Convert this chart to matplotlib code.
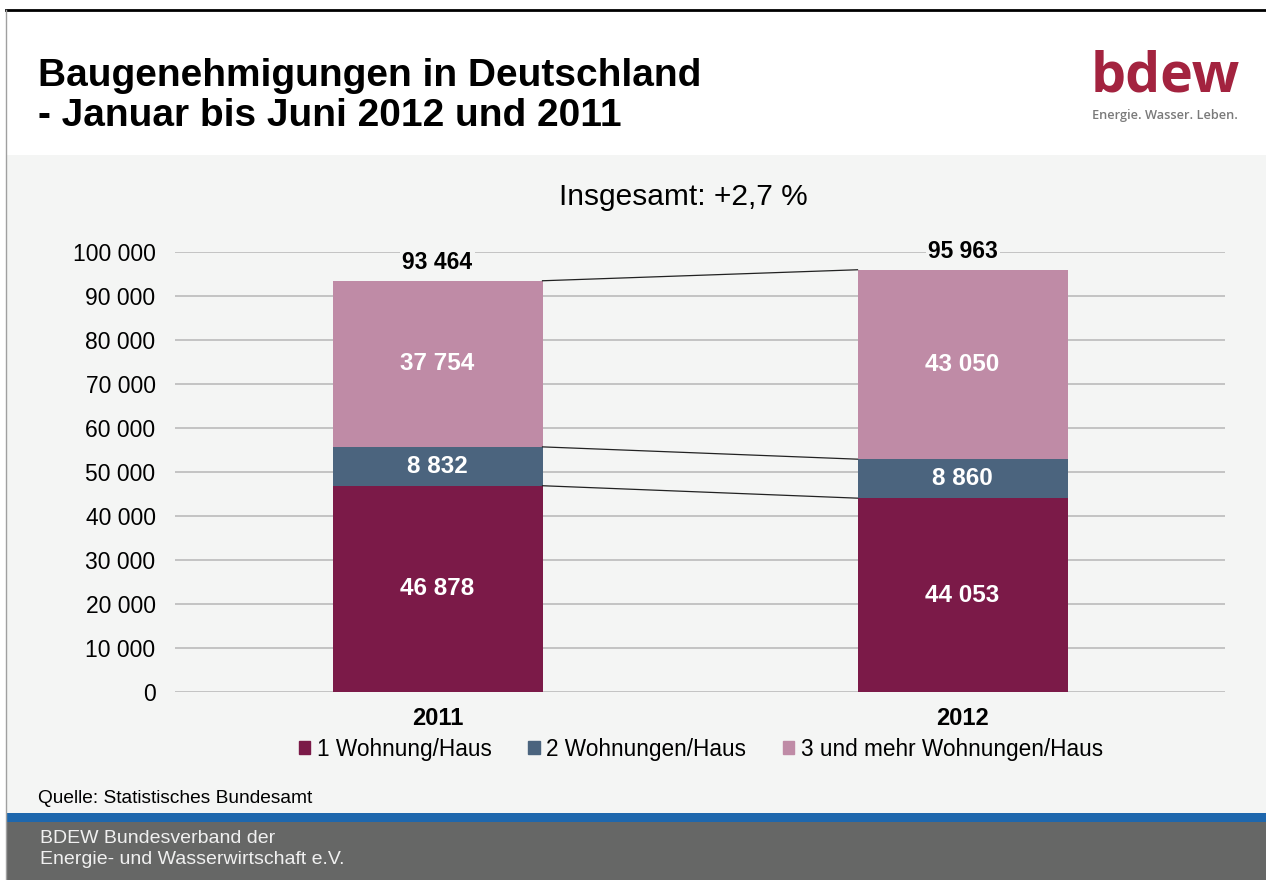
import matplotlib
matplotlib.use("Agg")
import matplotlib.pyplot as plt
from matplotlib.patches import Rectangle
from matplotlib.lines import Line2D

plt.rcParams['font.family'] = ['Liberation Sans', 'DejaVu Sans']

# data
years = ['2011', '2012']
series = ['1 Wohnung/Haus', '2 Wohnungen/Haus', '3 und mehr Wohnungen/Haus']
one_flat = [46878, 44053]
two_flats = [8832, 8860]
three_plus = [37754, 43050]
totals = [93464, 95963]
yticks = [0, 10000, 20000, 30000, 40000, 50000, 60000, 70000, 80000, 90000, 100000]

colors = ['#7b1a48', '#4b647e', '#bf8ba6']
bg = '#f4f5f4'

W, H = 1266, 880
fig = plt.figure(figsize=(W / 100, H / 100), dpi=100)
fig.patch.set_facecolor('white')


def box(x0, y0, x1, y1, color, z=0):
    # pixel coords, origin top-left
    fig.add_artist(Rectangle((x0 / W, 1 - y1 / H), (x1 - x0) / W, (y1 - y0) / H,
                             transform=fig.transFigure, facecolor=color,
                             edgecolor='none', zorder=z))


def fline(x0, y0, x1, y1, color, lw):
    fig.add_artist(Line2D([x0 / W, x1 / W], [1 - y0 / H, 1 - y1 / H],
                          transform=fig.transFigure, color=color, lw=lw, zorder=1))


# page frame
box(7, 155, W, 813, bg)
box(7, 813, W, 822, '#1e67ad')
box(7, 822, W, H, '#666766')
fline(6, 10, W, 10, 'black', 2)
fline(6, 10, 6, 880, '#a0a0a0', 1)

# header
fig.text(38 / W, 1 - 76 / H, 'Baugenehmigungen in Deutschland', fontsize=28,
         fontweight='bold', va='center', ha='left')
fig.text(38 / W, 1 - 116 / H, '- Januar bis Juni 2012 und 2011', fontsize=28,
         fontweight='bold', va='center', ha='left')
fig.text(1165 / W, 1 - 77 / H, 'bdew', fontsize=40, color='#a3233f',
         ha='center', va='center', fontfamily='Open Sans', fontweight='bold')
fig.text(1165 / W, 1 - 116 / H, 'Energie. Wasser. Leben.', fontsize=9.2,
         color='#7a7a7a', ha='center', va='center', fontfamily='Open Sans',
         fontweight='semibold')

# footer
fig.text(38 / W, 1 - 798 / H, 'Quelle: Statistisches Bundesamt', fontsize=13.8,
         va='center', ha='left')
fig.text(40 / W, 1 - 838 / H, 'BDEW Bundesverband der', fontsize=14,
         color='#f0f0f0', va='center', ha='left')
fig.text(40 / W, 1 - 859 / H, 'Energie- und Wasserwirtschaft e.V.', fontsize=14,
         color='#f0f0f0', va='center', ha='left')

fig.text(683 / W, 1 - 197 / H, 'Insgesamt: +2,7 %', fontsize=21.5,
         ha='center', va='center')

# chart
ax = fig.add_axes([175 / W, 188 / H, 1050 / W, 440 / H])
ax.set_facecolor(bg)
ax.patch.set_alpha(0)
x = [0, 1]
bw = 0.4
ax.bar(x, one_flat, bw, color=colors[0], label=series[0], zorder=3)
base2 = one_flat
ax.bar(x, two_flats, bw, bottom=base2, color=colors[1], label=series[1], zorder=3)
base3 = [a + b for a, b in zip(one_flat, two_flats)]
ax.bar(x, three_plus, bw, bottom=base3, color=colors[2], label=series[2], zorder=3)

# connector lines between stacks
for level in [one_flat, base3, totals]:
    ax.plot([x[0] + bw / 2, x[1] - bw / 2], [level[0], level[1]],
            color='#222222', lw=0.9, zorder=3)

def fmt(v):
    return f'{v:,}'.replace(',', ' ')

for i in range(2):
    ax.text(x[i], one_flat[i] / 2, fmt(one_flat[i]), color='white',
            fontsize=17.5, fontweight='bold', ha='center', va='center', zorder=4)
    ax.text(x[i], one_flat[i] + two_flats[i] / 2, fmt(two_flats[i]), color='white',
            fontsize=17.5, fontweight='bold', ha='center', va='center', zorder=4)
    ax.text(x[i], base3[i] + three_plus[i] / 2, fmt(three_plus[i]), color='white',
            fontsize=17.5, fontweight='bold', ha='center', va='center', zorder=4)
    ax.text(x[i], totals[i] + 1500, fmt(totals[i]), color='black',
            fontsize=16.5, fontweight='bold', ha='center', va='bottom', zorder=4,
            clip_on=False,
            bbox=dict(facecolor=bg, edgecolor='none', pad=1.5))

ax.set_xlim(-0.5, 1.5)
ax.set_ylim(0, 100000)
ax.set_yticks(yticks)
ax.set_yticklabels([fmt(v) for v in yticks], fontsize=16.5)
ax.set_xticks(x)
ax.set_xticklabels(years, fontsize=17, fontweight='bold')
ax.tick_params(axis='both', length=0)
ax.tick_params(axis='y', pad=14)
ax.tick_params(axis='x', pad=11)
ax.grid(axis='y', color='#bfbfbf', lw=1.3, zorder=0)
for s in ax.spines.values():
    s.set_visible(False)

handles = [Rectangle((0, 0), 1, 1, color=c) for c in colors]
fig.legend(handles, series, loc='center', bbox_to_anchor=(701 / W, 1 - 749 / H),
           ncol=3, frameon=False, fontsize=16.3, handlelength=0.5, handleheight=0.5,
           handletextpad=0.3, columnspacing=1.6)

fig.savefig('out.png', dpi=100, facecolor=fig.get_facecolor())
